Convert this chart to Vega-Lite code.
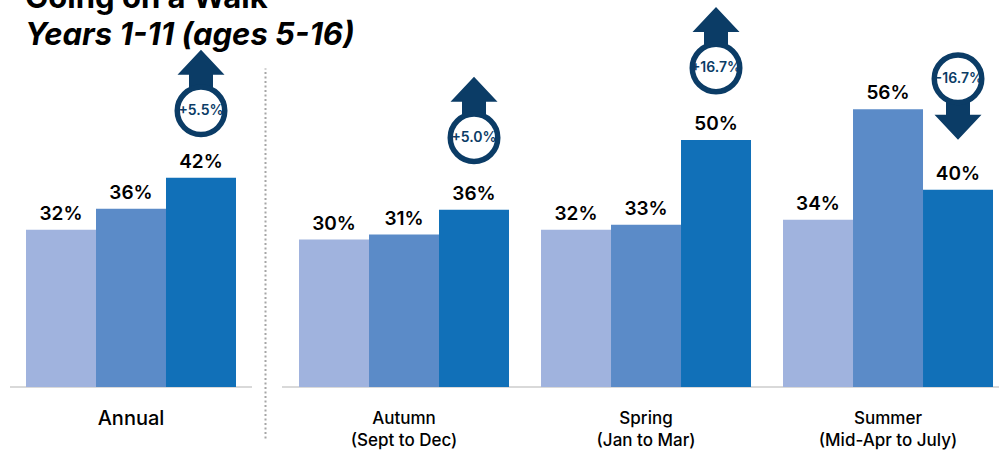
{
  "$schema": "https://vega.github.io/schema/vega-lite/v6.json",
  "autosize": {"type": "none"},
  "padding": {"left": 10, "top": 68, "right": 989, "bottom": 384},
  "background": "white",
  "config": {"view": {"stroke": null}, "font": "Inter", "axis": {"grid": false}},
  "title": {
    "text": "Going on a Walk",
    "subtitle": "Years 1-11 (ages 5-16)",
    "anchor": "start",
    "frame": "group",
    "font": "Inter",
    "fontSize": 31,
    "fontWeight": 700,
    "color": "black",
    "subtitleFont": "Inter",
    "subtitleFontSize": 31,
    "subtitleFontWeight": 700,
    "subtitleFontStyle": "italic",
    "subtitleColor": "black",
    "subtitlePadding": 6,
    "offset": 0,
    "dx": 15,
    "dy": 45
  },
  "datasets": {
    "bars": [
      {"period": "Annual", "series": "Wave 1", "value": 0.316},
      {"period": "Annual", "series": "Wave 2", "value": 0.358},
      {"period": "Annual", "series": "Wave 3", "value": 0.420, "change": 0.055},
      {"period": "Autumn (Sept to Dec)", "series": "Wave 1", "value": 0.296},
      {"period": "Autumn (Sept to Dec)", "series": "Wave 2", "value": 0.306},
      {"period": "Autumn (Sept to Dec)", "series": "Wave 3", "value": 0.356, "change": 0.050},
      {"period": "Spring (Jan to Mar)", "series": "Wave 1", "value": 0.316},
      {"period": "Spring (Jan to Mar)", "series": "Wave 2", "value": 0.326},
      {"period": "Spring (Jan to Mar)", "series": "Wave 3", "value": 0.496, "change": 0.167},
      {"period": "Summer (Mid-Apr to July)", "series": "Wave 1", "value": 0.336},
      {"period": "Summer (Mid-Apr to July)", "series": "Wave 2", "value": 0.558},
      {"period": "Summer (Mid-Apr to July)", "series": "Wave 3", "value": 0.396, "change": -0.167}
    ]
  },
  "spacing": 30,
  "bounds": "flush",
  "hconcat": [
    {
      "width": 242,
      "height": 370,
      "data": {"name": "bars"},
      "transform": [{"filter": "datum.period === 'Annual'"}],
      "layer": [
        {
          "mark": {"type": "rule", "color": "#d9d9d9", "strokeWidth": 2},
          "encoding": {"y": {"datum": 0, "type": "quantitative", "scale": {"domain": [-0.1024, 0.6406], "nice": false, "zero": false}, "axis": null}}
        },
        {
          "mark": {"type": "bar"},
          "encoding": {
            "x": {"field": "period", "type": "nominal", "scale": {"domain": ["Annual"], "paddingInner": 0, "paddingOuter": 0.0762},
                  "axis": {"title": null, "domain": false, "ticks": false, "labelAngle": 0, "labelPadding": -30, "labelFontSize": 20, "labelFontWeight": 500, "labelColor": "black", "labelFont": "Inter"}},
            "xOffset": {"field": "series", "type": "nominal", "scale": {"domain": ["Wave 1", "Wave 2", "Wave 3"], "paddingInner": 0, "paddingOuter": 0}},
            "y": {"field": "value", "type": "quantitative", "scale": {"domain": [-0.1024, 0.6406], "nice": false, "zero": false}, "axis": null},
            "color": {"field": "series", "type": "nominal", "scale": {"domain": ["Wave 1", "Wave 2", "Wave 3"], "range": ["#a0b3de", "#5b8bc8", "#1170b8"]}, "legend": null}
          }
        },
        {
          "mark": {"type": "text", "dy": -10, "baseline": "alphabetic", "fontSize": 19, "fontWeight": 600, "color": "black"},
          "encoding": {
            "x": {"field": "period", "type": "nominal"},
            "xOffset": {"field": "series", "type": "nominal"},
            "y": {"field": "value", "type": "quantitative"},
            "text": {"field": "value", "type": "quantitative", "format": ".0%"}
          }
        },
        {
          "transform": [{"filter": "datum.change > 0"}],
          "mark": {"type": "point", "shape": "M0,-6.1L2.35,-3.6L1.2,-3.6L1.2,-2.2L-1.2,-2.2L-1.2,-3.6L-2.35,-3.6Z", "size": 400, "filled": true, "color": "#0b3c66", "opacity": 1, "strokeWidth": 0, "yOffset": -67},
          "encoding": {
            "x": {"field": "period", "type": "nominal"},
            "xOffset": {"field": "series", "type": "nominal"},
            "y": {"field": "value", "type": "quantitative"}
          }
        },
        {
          "transform": [{"filter": "datum.change > 0"}],
          "mark": {"type": "point", "shape": "circle", "size": 2256, "filled": true, "fill": "white", "stroke": "#0b3c66", "strokeWidth": 5.5, "opacity": 1, "fillOpacity": 1, "strokeOpacity": 1, "yOffset": -67},
          "encoding": {
            "x": {"field": "period", "type": "nominal"},
            "xOffset": {"field": "series", "type": "nominal"},
            "y": {"field": "value", "type": "quantitative"}
          }
        },
        {
          "transform": [{"filter": "datum.change > 0"}],
          "mark": {"type": "text", "dy": -67, "baseline": "middle", "fontSize": 14, "fontWeight": 600, "color": "#0b3c66"},
          "encoding": {
            "x": {"field": "period", "type": "nominal"},
            "xOffset": {"field": "series", "type": "nominal"},
            "y": {"field": "value", "type": "quantitative"},
            "text": {"field": "change", "type": "quantitative", "format": "+.1%"}
          }
        }
      ]
    },
    {
      "width": 717,
      "height": 370,
      "data": {"name": "bars"},
      "transform": [{"filter": "datum.period !== 'Annual'"}],
      "layer": [
        {
          "mark": {"type": "rule", "color": "#d9d9d9", "strokeWidth": 2},
          "encoding": {"y": {"datum": 0, "type": "quantitative", "scale": {"domain": [-0.1024, 0.6406], "nice": false, "zero": false},
            "axis": {"orient": "left", "offset": 17, "domain": true, "domainDash": [2, 2.5], "domainColor": "#a6a6a6", "domainWidth": 2, "labels": false, "ticks": false, "grid": false, "title": null}}}
        },
        {
          "mark": {"type": "bar"},
          "encoding": {
            "x": {"field": "period", "type": "nominal", "scale": {"domain": ["Autumn (Sept to Dec)", "Spring (Jan to Mar)", "Summer (Mid-Apr to July)"], "paddingInner": 0.1322, "paddingOuter": 0.0475, "align": 0.74},
                  "axis": {"title": null, "domain": false, "ticks": false, "labelAngle": 0, "labelPadding": -28, "labelFontSize": 17, "labelFontWeight": 500, "labelColor": "black", "labelFont": "Inter", "labelLineHeight": 22,
                           "labelExpr": "indexof(datum.label, ' (') > 0 ? [substring(datum.label, 0, indexof(datum.label, ' (')), substring(datum.label, indexof(datum.label, ' (') + 1)] : datum.label"}},
            "xOffset": {"field": "series", "type": "nominal", "scale": {"domain": ["Wave 1", "Wave 2", "Wave 3"], "paddingInner": 0, "paddingOuter": 0}},
            "y": {"field": "value", "type": "quantitative", "scale": {"domain": [-0.1024, 0.6406], "nice": false, "zero": false}},
            "color": {"field": "series", "type": "nominal", "scale": {"domain": ["Wave 1", "Wave 2", "Wave 3"], "range": ["#a0b3de", "#5b8bc8", "#1170b8"]}, "legend": null}
          }
        },
        {
          "mark": {"type": "text", "dy": -10, "baseline": "alphabetic", "fontSize": 19, "fontWeight": 600, "color": "black"},
          "encoding": {
            "x": {"field": "period", "type": "nominal"},
            "xOffset": {"field": "series", "type": "nominal"},
            "y": {"field": "value", "type": "quantitative"},
            "text": {"field": "value", "type": "quantitative", "format": ".0%"}
          }
        },
        {
          "transform": [{"filter": "datum.change > 0"}],
          "mark": {"type": "point", "shape": "M0,-6.1L2.35,-3.6L1.2,-3.6L1.2,-2.2L-1.2,-2.2L-1.2,-3.6L-2.35,-3.6Z", "size": 400, "filled": true, "color": "#0b3c66", "opacity": 1, "strokeWidth": 0, "yOffset": -72},
          "encoding": {
            "x": {"field": "period", "type": "nominal"},
            "xOffset": {"field": "series", "type": "nominal"},
            "y": {"field": "value", "type": "quantitative"}
          }
        },
        {
          "transform": [{"filter": "datum.change < 0"}],
          "mark": {"type": "point", "shape": "M0,6.1L2.35,3.6L1.2,3.6L1.2,2.2L-1.2,2.2L-1.2,3.6L-2.35,3.6Z", "size": 400, "filled": true, "color": "#0b3c66", "opacity": 1, "strokeWidth": 0, "yOffset": -111},
          "encoding": {
            "x": {"field": "period", "type": "nominal"},
            "xOffset": {"field": "series", "type": "nominal"},
            "y": {"field": "value", "type": "quantitative"}
          }
        },
        {
          "transform": [{"filter": "datum.change > 0"}],
          "mark": {"type": "point", "shape": "circle", "size": 2256, "filled": true, "fill": "white", "stroke": "#0b3c66", "strokeWidth": 5.5, "opacity": 1, "fillOpacity": 1, "strokeOpacity": 1, "yOffset": -72},
          "encoding": {
            "x": {"field": "period", "type": "nominal"},
            "xOffset": {"field": "series", "type": "nominal"},
            "y": {"field": "value", "type": "quantitative"}
          }
        },
        {
          "transform": [{"filter": "datum.change < 0"}],
          "mark": {"type": "point", "shape": "circle", "size": 2256, "filled": true, "fill": "white", "stroke": "#0b3c66", "strokeWidth": 5.5, "opacity": 1, "fillOpacity": 1, "strokeOpacity": 1, "yOffset": -111},
          "encoding": {
            "x": {"field": "period", "type": "nominal"},
            "xOffset": {"field": "series", "type": "nominal"},
            "y": {"field": "value", "type": "quantitative"}
          }
        },
        {
          "transform": [{"filter": "datum.change > 0"}],
          "mark": {"type": "text", "dy": -72, "baseline": "middle", "fontSize": 14, "fontWeight": 600, "color": "#0b3c66"},
          "encoding": {
            "x": {"field": "period", "type": "nominal"},
            "xOffset": {"field": "series", "type": "nominal"},
            "y": {"field": "value", "type": "quantitative"},
            "text": {"field": "change", "type": "quantitative", "format": "+.1%"}
          }
        },
        {
          "transform": [{"filter": "datum.change < 0"}],
          "mark": {"type": "text", "dy": -111, "baseline": "middle", "fontSize": 14, "fontWeight": 600, "color": "#0b3c66"},
          "encoding": {
            "x": {"field": "period", "type": "nominal"},
            "xOffset": {"field": "series", "type": "nominal"},
            "y": {"field": "value", "type": "quantitative"},
            "text": {"field": "change", "type": "quantitative", "format": "+.1%"}
          }
        }
      ]
    }
  ]
}
